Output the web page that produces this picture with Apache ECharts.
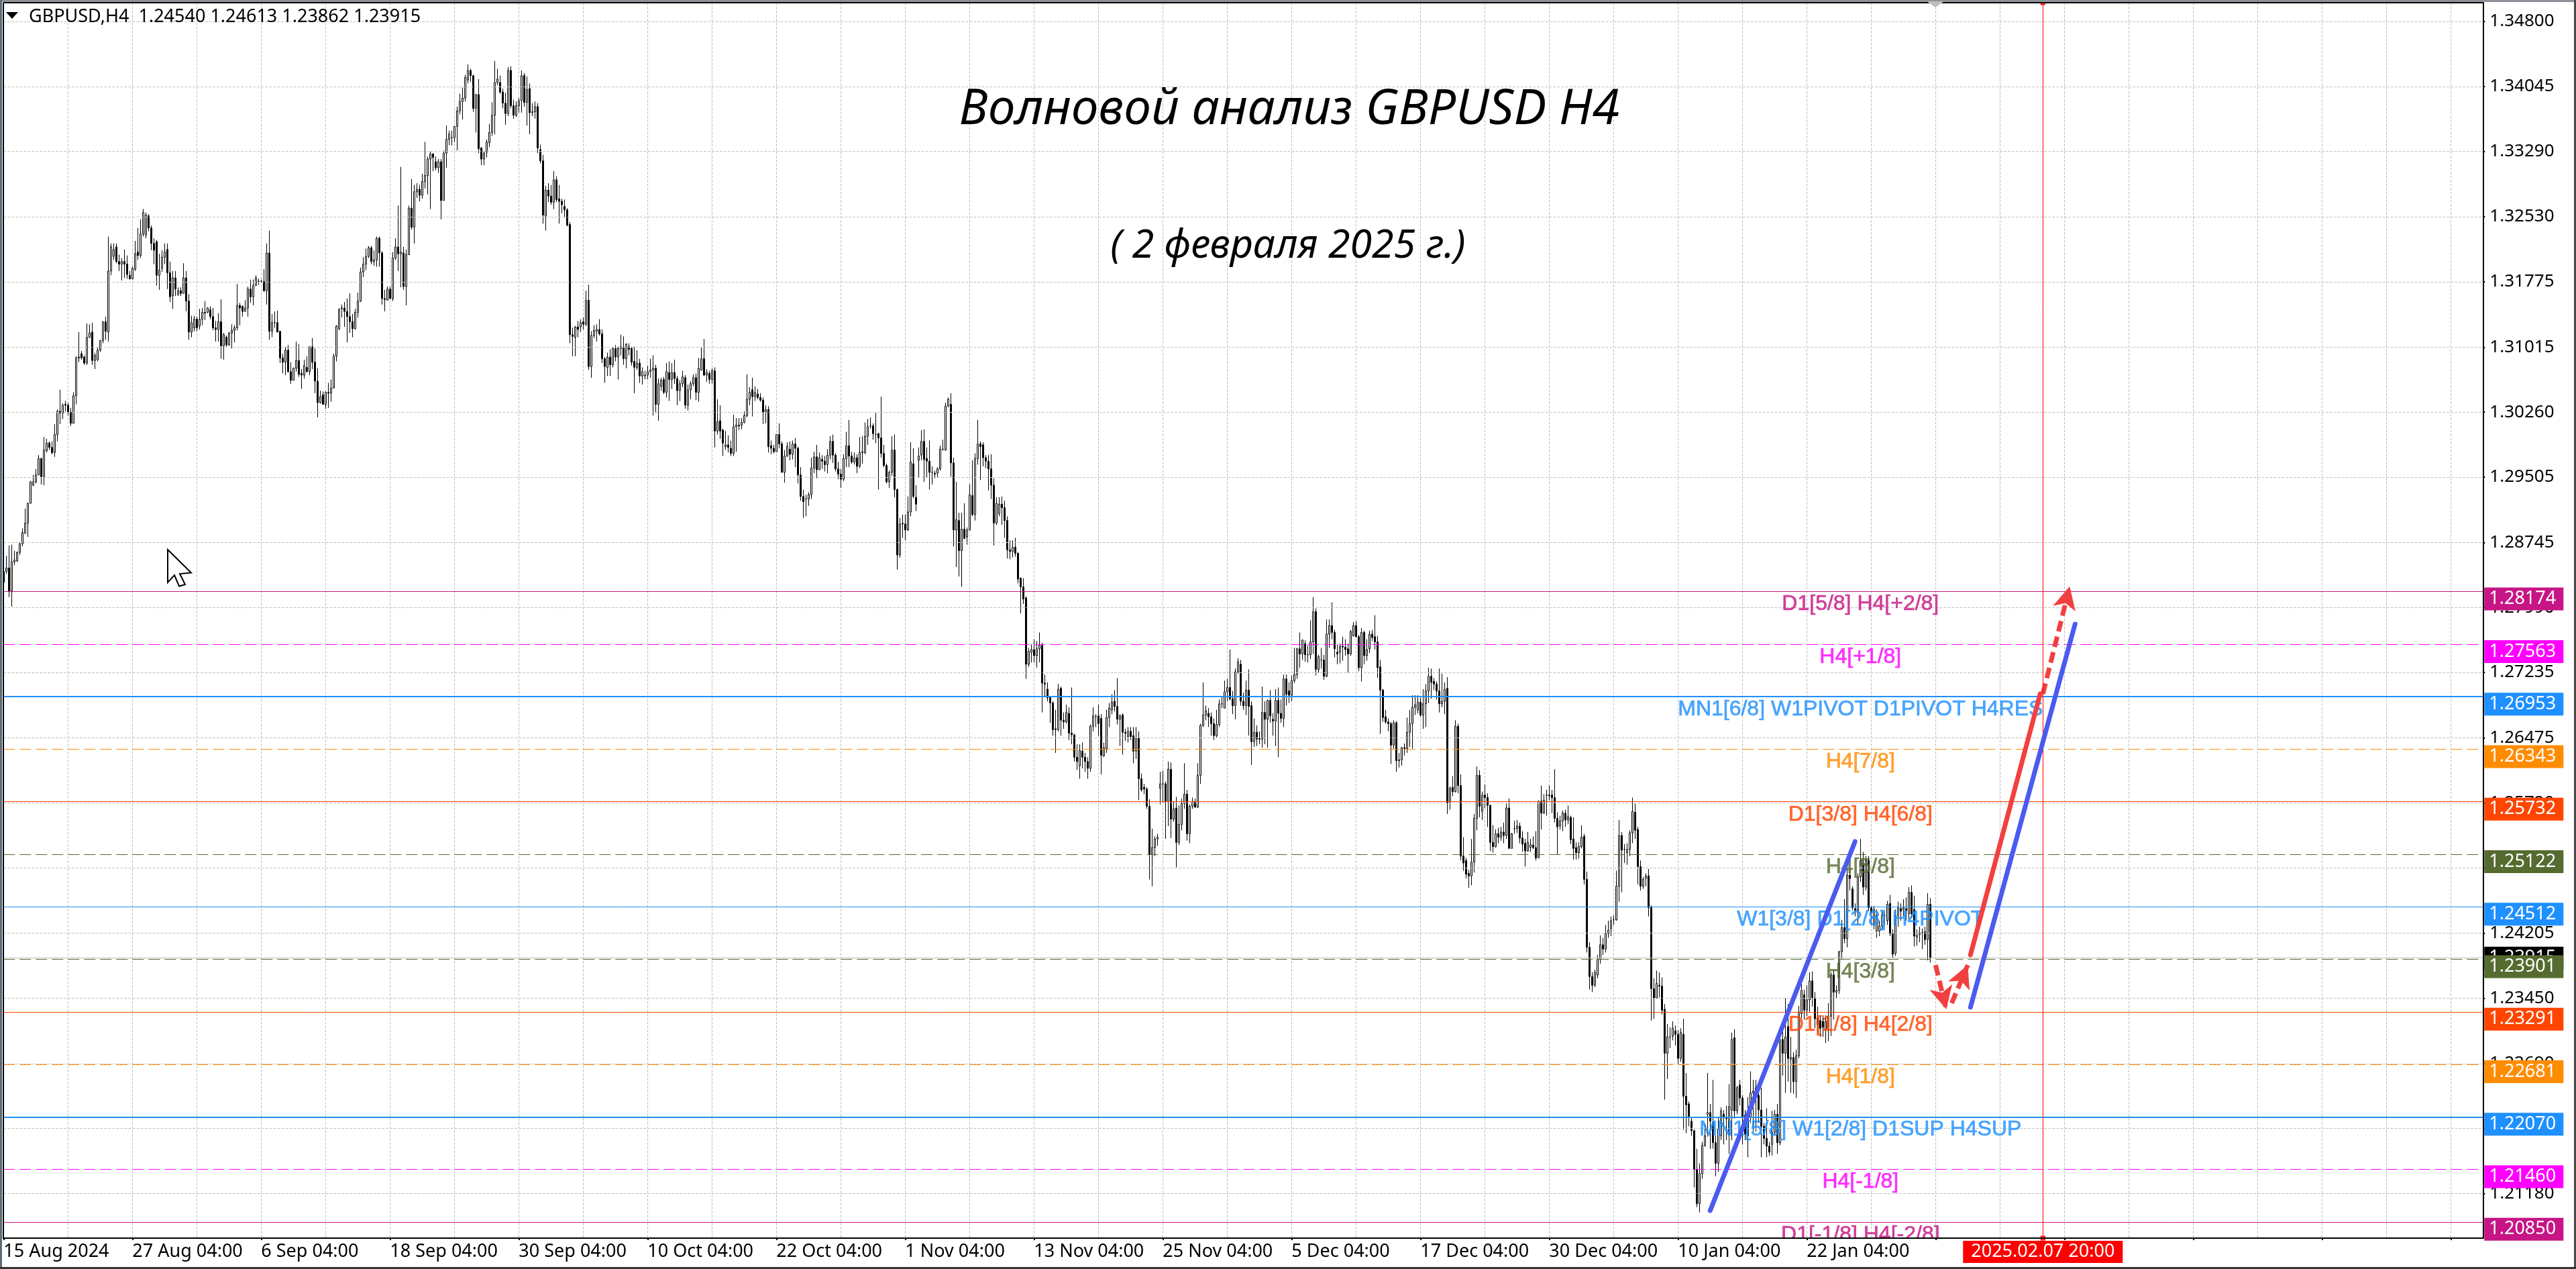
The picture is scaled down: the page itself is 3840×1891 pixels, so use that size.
<!DOCTYPE html>
<html><head><meta charset="utf-8">
<style>html,body{margin:0;padding:0;background:#fff;overflow:hidden}#c{width:3840px;height:1891px}</style>
<script src="https://cdn.jsdelivr.net/npm/echarts@6/dist/echarts.min.js"></script>
</head><body><div id="c"></div>
<script>
// Prices are stored as pips above 1.20000; each row is [open, high, low, close]
const barsAugSep = [
[828,842,820,841],[841,859,838,845],[845,871,811,818],[818,872,800,852],[852,865,848,854],[853,864,852,863],[863,875,860,873],[873,891,870,886],[885,914,885,897],[897,921,881,920],
[920,946,920,945],[941,953,940,945],[945,960,943,953],[953,976,953,972],[972,973,942,951],[951,997,941,982],[981,995,979,990],[990,992,982,985],[985,992,977,979],[979,1012,974,1000],
[1000,1029,992,1027],[1027,1052,1012,1025],[1025,1036,1018,1034],[1035,1039,1027,1034],[1034,1037,1022,1026],[1026,1031,1010,1013],[1013,1049,1013,1045],[1045,1091,1035,1089],[1090,1119,1084,1089],[1094,1097,1087,1089],
[1090,1092,1081,1083],[1083,1129,1081,1113],[1113,1128,1112,1118],[1119,1130,1081,1086],[1086,1095,1076,1092],[1087,1101,1085,1098],[1098,1110,1096,1109],[1109,1131,1106,1131],[1131,1137,1110,1120],[1119,1230,1108,1190],
[1190,1222,1185,1218],[1207,1222,1203,1215],[1218,1222,1199,1201],[1201,1209,1190,1198],[1198,1205,1179,1201],[1201,1215,1182,1198],[1198,1208,1181,1186],[1185,1190,1180,1181],[1181,1195,1180,1193],[1192,1225,1190,1210],
[1212,1240,1203,1208],[1208,1250,1205,1233],[1233,1262,1230,1258],[1232,1258,1228,1255],[1254,1256,1236,1240],[1240,1243,1214,1222],[1222,1228,1198,1214],[1224,1226,1173,1185],[1185,1210,1168,1191],[1193,1214,1189,1206],
[1206,1222,1198,1212],[1215,1222,1169,1188],[1188,1201,1154,1160],[1161,1190,1146,1182],[1182,1190,1161,1169],[1163,1171,1161,1167],[1167,1171,1161,1164],[1164,1199,1164,1182],[1182,1190,1143,1155],[1155,1163,1110,1119],
[1119,1138,1113,1130],[1124,1138,1120,1134],[1134,1137,1120,1124],[1126,1146,1122,1134],[1134,1147,1127,1142],[1142,1155,1133,1141],[1142,1148,1141,1147],[1145,1149,1134,1137],[1137,1147,1121,1124],[1124,1132,1108,1122],
[1122,1141,1108,1131],[1131,1157,1088,1103],[1103,1118,1087,1116],[1113,1115,1102,1104],[1104,1119,1103,1118],[1118,1128,1100,1121],[1121,1127,1107,1124],[1124,1175,1121,1150],[1150,1153,1127,1147],[1149,1150,1137,1143],
[1143,1156,1143,1147],[1147,1172,1137,1169],[1169,1180,1153,1160],[1160,1180,1150,1173],[1173,1185,1173,1182],[1178,1181,1174,1178],[1178,1180,1176,1178],[1178,1192,1166,1167],[1167,1222,1151,1211],[1211,1237,1110,1120]
];
const barsSepOct = [
[1120,1140,1113,1130],[1130,1143,1124,1130],[1130,1144,1119,1119],[1120,1120,1083,1089],[1089,1094,1071,1084],[1084,1102,1069,1098],[1098,1104,1072,1073],[1073,1084,1059,1063],[1063,1078,1063,1077],[1077,1108,1073,1086],
[1086,1105,1067,1070],[1071,1076,1053,1069],[1069,1087,1065,1080],[1078,1091,1072,1073],[1073,1102,1069,1102],[1102,1112,1076,1084],[1084,1100,1048,1062],[1062,1077,1020,1037],[1037,1051,1036,1044],[1046,1050,1035,1035],
[1035,1050,1030,1049],[1049,1060,1031,1048],[1048,1064,1038,1054],[1054,1094,1054,1091],[1091,1127,1085,1126],[1123,1147,1121,1145],[1146,1151,1136,1147],[1147,1154,1125,1143],[1143,1158,1107,1137],[1137,1164,1118,1131],
[1131,1140,1113,1123],[1123,1146,1122,1142],[1142,1165,1136,1155],[1155,1194,1154,1189],[1189,1206,1183,1198],[1198,1216,1191,1207],[1207,1219,1205,1217],[1217,1219,1198,1201],[1201,1214,1196,1203],[1203,1230,1195,1228],
[1228,1230,1195,1211],[1211,1213,1151,1158],[1158,1168,1143,1157],[1156,1172,1156,1169],[1169,1172,1157,1158],[1158,1212,1155,1205],[1205,1228,1203,1218],[1218,1266,1190,1210],[1210,1311,1171,1212],[1211,1218,1168,1172],
[1172,1215,1150,1209],[1209,1266,1209,1263],[1263,1297,1238,1241],[1241,1290,1222,1282],[1282,1292,1275,1285],[1285,1290,1271,1278],[1278,1303,1274,1294],[1294,1340,1286,1301],[1301,1323,1279,1320],[1320,1329,1262,1326],
[1326,1327,1306,1322],[1317,1323,1307,1310],[1310,1320,1304,1317],[1317,1320,1250,1272],[1272,1330,1272,1327],[1327,1359,1310,1343],[1343,1353,1336,1349],[1345,1353,1336,1345],[1345,1358,1340,1358],[1358,1381,1330,1376],
[1376,1396,1372,1387],[1387,1403,1366,1391],[1391,1418,1387,1415],[1412,1430,1408,1423],[1423,1425,1410,1417],[1417,1418,1375,1379],[1379,1396,1351,1395],[1395,1413,1327,1332],[1333,1334,1313,1320],[1320,1329,1313,1327],
[1328,1343,1322,1340],[1339,1361,1334,1351],[1351,1386,1347,1371],[1371,1434,1349,1409],[1409,1425,1406,1413],[1409,1417,1396,1398],[1398,1402,1379,1385],[1385,1397,1360,1373],[1373,1427,1370,1423],[1423,1428,1379,1382],
[1382,1389,1367,1371],[1371,1387,1369,1382],[1382,1391,1374,1388],[1388,1423,1374,1417],[1417,1420,1381,1386],[1386,1416,1359,1401],[1402,1408,1349,1374],[1374,1385,1370,1375],[1375,1387,1367,1381],[1381,1385,1327,1333],
[1331,1337,1315,1318],[1318,1325,1245,1255],[1254,1289,1237,1284],[1284,1292,1270,1277],[1277,1290,1267,1270],[1270,1306,1262,1296]
];
const barsOct = [
[1296,1300,1270,1273],[1274,1290,1245,1271],[1271,1274,1257,1267],[1265,1273,1252,1261],[1261,1263,1242,1243],[1244,1247,1106,1116],[1116,1124,1091,1114],[1113,1126,1091,1125],[1125,1132,1113,1122],[1125,1134,1119,1130],
[1131,1136,1122,1128],[1128,1167,1126,1156],[1156,1174,1075,1079],[1079,1120,1066,1115],[1115,1127,1112,1121],[1120,1128,1108,1122],[1122,1134,1115,1117],[1117,1122,1083,1088],[1088,1090,1060,1079],[1078,1095,1068,1090],
[1090,1099,1068,1081],[1081,1102,1078,1100],[1100,1104,1085,1090],[1090,1102,1064,1100],[1100,1116,1092,1102],[1101,1114,1081,1088],[1088,1106,1077,1105],[1102,1106,1092,1099],[1100,1102,1080,1084],[1085,1102,1048,1078],
[1078,1098,1075,1083],[1083,1088,1060,1068],[1068,1078,1058,1073],[1068,1074,1064,1069],[1069,1080,1064,1073],[1073,1088,1066,1075],[1075,1092,1022,1077],[1077,1081,1025,1035],[1035,1065,1016,1059],[1056,1066,1051,1063],
[1064,1067,1047,1049],[1049,1083,1043,1073],[1072,1085,1039,1064],[1064,1083,1053,1072],[1072,1087,1059,1065],[1065,1068,1034,1051],[1051,1063,1039,1059],[1059,1074,1055,1067],[1066,1069,1030,1034],[1034,1058,1028,1052],
[1052,1062,1041,1059],[1059,1070,1056,1066],[1066,1071,1040,1049],[1049,1089,1038,1077],[1075,1101,1074,1088],[1088,1111,1068,1069],[1069,1076,1061,1072],[1071,1074,1059,1064],[1064,1077,1059,1074],[1074,1078,985,1004],
[1004,1041,1000,1015],[1016,1034,995,1004],[1005,1007,975,990],[986,1004,982,988],[988,999,979,985],[984,993,975,978],[978,1023,975,1009],[1009,1019,980,1011],[1011,1019,1005,1010],[1011,1019,1006,1014],
[1014,1027,1013,1022],[1022,1070,1020,1041],[1041,1055,1034,1049],[1052,1066,1021,1044],[1044,1056,1039,1049],[1047,1053,1041,1043],[1043,1048,1038,1040],[1040,1043,1012,1026],[1026,1034,1013,1029],[1029,1033,979,986],
[987,993,977,984],[984,988,978,980],[980,1000,980,1000],[1000,1013,984,989],[989,992,956,956],[956,982,944,975],[975,991,974,986],[983,992,970,977],[977,993,971,989],[989,996,962,984],
[984,986,943,953],[953,962,923,928],[928,936,903,922],[925,930,905,925],[925,933,917,930],[930,973,925,961],[961,980,955,974],[974,988,949,959],[959,979,959,973],[971,976,960,969],
[969,975,957,965],[965,983,955,976],[976,998,971,992]
];
const barsNov = [
[992,1000,967,976],[976,978,957,960],[960,968,948,954],[954,960,938,948],[948,977,946,972],[972,1003,962,987],[987,1017,962,975],[975,980,966,968],[968,979,965,973],[973,977,955,963],
[963,997,961,979],[979,998,966,980],[979,1014,977,998],[998,1018,988,1009],[1010,1020,1007,1010],[1010,1013,994,1001],[1000,1025,990,1000],[1001,1002,936,996],[996,1044,973,978],[978,988,962,964],
[964,966,943,945],[945,958,938,956],[956,998,952,982],[982,1000,927,936],[936,937,843,860],[860,903,857,896],[896,907,880,897],[896,907,877,889],[889,928,888,910],[910,991,905,968],
[966,984,926,928],[927,941,911,919],[970,985,950,975],[976,1005,970,992],[992,1006,945,971],[972,985,950,969],[969,993,936,956],[956,963,942,956],[955,958,949,954],[955,962,950,960],
[960,987,958,983],[983,994,981,983],[982,1037,981,1033],[1033,1043,1032,1041],[1035,1048,951,967],[967,973,870,889],[889,945,846,901],[900,909,835,865],[865,909,823,890],[890,920,879,879],
[881,892,872,889],[889,942,889,930],[929,970,905,907],[907,978,900,972],[972,1017,965,989],[989,992,947,986],[988,991,963,973],[973,976,961,969],[969,976,935,960],[960,977,925,941],
[941,949,871,897],[897,927,895,920],[908,927,905,919],[919,928,895,915],[915,923,880,900],[900,905,856,866],[866,877,855,864],[864,877,857,869],[869,880,858,862],[862,863,827,832],
[833,834,792,823],[823,833,803,809],[810,812,716,733],[733,752,730,748],[747,756,735,750],[750,762,735,743],[743,760,729,751],[751,770,735,755],[755,758,677,711],[711,721,695,710],
[704,712,690,694],[694,696,665,688],[688,690,650,657],[658,680,630,657],[657,710,655,704],[705,707,650,668],[668,677,658,666],[666,686,664,677],[676,683,645,653],[653,706,640,651],
[651,652,620,625],[625,640,610,620],[615,640,600,633],[632,642,612,625],[625,630,608,620],[620,625,600,612],[612,663,608,661],[661,683,655,673],[672,675,660,672],[673,686,650,664]
];
const barsDec = [
[670,675,605,627],[627,642,625,636],[635,680,630,671],[671,688,660,682],[680,698,675,689],[690,703,678,684],[684,717,663,669],[669,675,638,673],[674,676,628,654],[654,658,644,653],
[649,660,642,655],[655,660,645,649],[650,660,618,632],[632,660,623,647],[647,655,575,600],[600,606,585,587],[590,594,582,588],[588,590,565,568],[568,576,483,512],[512,542,475,520],
[520,533,510,530],[530,536,522,532],[589,608,570,594],[594,609,572,594],[594,597,530,573],[573,620,545,611],[611,619,531,553],[553,574,550,565],[566,579,497,526],[526,569,523,547],
[547,577,540,571],[571,618,565,582],[582,587,528,536],[536,570,525,568],[568,578,565,573],[573,577,566,567],[567,618,566,604],[604,664,594,662],[662,712,660,674],[674,685,668,679],
[676,682,660,672],[672,677,650,664],[664,670,645,650],[650,680,648,663],[663,692,660,687],[687,695,682,687],[682,714,682,701],[701,716,690,706],[706,750,691,693],[693,702,675,685],
[685,728,669,724],[724,740,722,736],[733,738,685,690],[690,700,680,685],[685,714,674,703],[703,727,650,684],[685,690,616,643],[643,670,637,654],[654,662,638,646],[647,655,640,646],
[646,707,636,677],[677,690,640,669],[669,692,636,691],[691,703,665,673],[669,676,650,667],[667,704,638,691],[691,706,625,676],[676,692,665,670],[670,721,660,716],[716,721,685,698],
[702,712,688,697],[697,720,690,714],[714,752,711,721],[721,752,716,751],[751,770,729,745],[745,762,738,761],[757,761,736,744],[744,755,735,744],[744,784,739,759],[759,811,745,794],
[794,798,720,727],[727,744,723,742],[738,752,728,738],[738,744,715,719],[719,785,718,768],[768,785,752,778],[778,805,762,770],[770,773,741,751],[747,756,733,745],[747,757,734,754],
[754,765,737,753],[753,762,743,750],[751,757,723,745],[745,773,743,771],[766,782,765,778],[778,783,764,765],[765,767,725,729],[729,775,713,770],[770,772,733,743],[743,762,737,750],
[751,772,746,768],[768,773,760,764],[765,790,750,759],[759,766,717,729],[730,738,652,703]
];
const barsJan = [
[703,704,666,671],[672,680,664,666],[666,670,655,664],[664,666,617,639],[639,668,635,665],[665,667,608,621],[621,630,613,622],[622,637,615,636],[636,641,627,635],[635,671,630,654],
[654,680,637,664],[664,697,635,683],[683,697,674,686],[680,697,676,689],[689,694,672,674],[674,704,658,687],[687,710,660,702],[702,729,688,719],[719,728,693,712],[713,717,703,710],
[710,713,692,702],[702,728,677,687],[687,722,683,690],[690,712,675,704],[705,718,559,572],[572,591,564,589],[590,603,580,585],[585,668,584,661],[661,664,583,592],[592,605,505,510],
[510,532,493,502],[505,508,484,489],[490,494,473,487],[487,530,476,503],[503,559,491,554],[554,614,540,604],[604,610,555,568],[562,585,552,581],[581,593,566,578],[578,583,544,569],
[569,570,516,526],[526,546,514,521],[521,541,520,536],[536,543,525,532],[532,544,528,538],[538,549,525,534],[534,571,530,566],[566,577,519,519],[519,537,519,536],[542,551,536,542],
[542,552,537,545],[545,549,525,531],[531,539,515,524],[525,530,498,516],[516,538,515,526],[520,530,515,523],[523,533,518,520],[520,539,505,508],[508,574,508,574],[574,592,541,560],
[560,582,559,575],[581,587,557,581],[581,592,575,580],[581,587,560,578],[578,611,549,554],[554,561,512,544],[545,557,541,551],[551,563,539,560],[560,564,544,552],[552,569,547,556],
[555,557,524,529],[530,555,506,519],[520,526,506,514],[514,526,507,521],[521,546,519,532],[533,536,477,483],[483,492,398,404],[404,410,355,370],[370,375,352,360],[360,378,358,375],
[372,395,368,390],[390,418,385,407],[407,415,395,402],[402,430,398,420],[420,435,415,424],[426,440,417,435],[436,441,430,436],[436,493,435,475],[475,552,457,534],[534,538,468,517],
[518,524,502,518],[514,525,500,518],[518,540,510,537],[537,578,525,562],[561,571,530,540],[541,544,477,498],[498,505,470,475],[475,486,472,483],[484,490,475,487],[487,495,440,450]
];
const barsJanFeb = [
[451,453,319,356],[356,368,321,345],[345,377,345,362],[360,375,346,359],[359,369,326,331],[332,338,227,281],[281,315,251,300],[300,311,287,300],[301,318,296,310],[307,313,290,303],
[303,308,268,275],[275,310,271,305],[303,321,192,231],[231,258,188,221],[222,225,196,207],[202,206,185,191],[191,192,125,146],[146,170,102,106],[106,153,96,141],[141,178,135,174],
[174,199,172,185],[210,258,184,212],[212,222,170,202],[201,250,170,177],[177,185,138,153],[153,207,143,193],[185,218,180,214],[210,215,175,206],[206,220,180,205],[186,245,164,219],
[215,305,180,297],[299,309,205,214],[214,243,210,241],[244,250,220,229],[229,232,175,207],[209,215,180,187],[185,230,160,205],[207,260,200,235],[235,250,190,237],[241,250,190,231],
[232,237,200,215],[215,241,160,196],[196,200,175,182],[182,217,160,173],[173,178,162,166],[175,214,162,189],[189,215,185,210],[210,222,164,177],[177,297,174,297],[297,319,255,281],
[281,345,235,300],[312,338,248,275],[274,300,235,276],[276,282,234,248],[248,285,229,278],[278,336,275,329],[327,361,322,354],[349,355,320,331],[331,360,324,343],[343,375,329,365],
[365,376,335,345],[345,352,310,321],[322,335,305,314],[319,325,300,310],[318,325,300,311],[309,325,293,318],[311,339,295,324],[324,375,301,372],[372,378,320,352],[352,360,345,354],
[354,400,350,399],[399,436,390,427],[427,460,409,414],[414,496,404,488],[488,496,470,484],[472,475,447,450],[449,455,440,447],[447,490,430,486],[486,530,480,505],[501,515,465,474],
[474,510,470,505],[505,510,446,450],[450,452,430,444],[430,452,425,448],[423,448,415,442],[423,435,417,429],[429,446,425,441],[441,445,430,441],[435,458,430,454],[455,465,417,420],
[420,425,392,396],[397,448,394,441],[441,457,428,450],[449,455,435,446],[448,460,440,450],[449,462,435,447],[443,474,436,468],[468,476,438,443],[448,464,405,417],[416,425,406,418],
[419,428,410,421],[421,426,402,421],[422,428,407,413],[413,467,389,454],[454,461.3,386.2,391.5]
];
const tickLabels = ["15 Aug 2024","27 Aug 04:00","6 Sep 04:00","18 Sep 04:00","30 Sep 04:00","10 Oct 04:00","22 Oct 04:00","1 Nov 04:00","13 Nov 04:00","25 Nov 04:00","5 Dec 04:00","17 Dec 04:00","30 Dec 04:00","10 Jan 04:00","22 Jan 04:00"];
const gridPrices = [1.348,1.34045,1.3329,1.3253,1.31775,1.31015,1.3026,1.29505,1.28745,1.2799,1.27235,1.26475,1.2572,1.24965,1.24205,1.2345,1.2269,1.21935,1.2118];
const levelPrices = [1.28174,1.27563,1.26953,1.26343,1.25732,1.25122,1.24512,1.23901,1.23291,1.22681,1.2207,1.2146,1.2085];
const levelNames = ["D1[5/8] H4[+2/8]","H4[+1/8]","MN1[6/8] W1PIVOT D1PIVOT H4RES","H4[7/8]","D1[3/8] H4[6/8]","H4[5/8]","W1[3/8] D1[2/8] H4PIVOT","H4[3/8]","D1[1/8] H4[2/8]","H4[1/8]","MN1[5/8] W1[2/8] D1SUP H4SUP","H4[-1/8]","D1[-1/8] H4[-2/8]"];
const currentPrice = 1.23915;
const blueChannelLeft = [[636,1.20981],[690,1.2527]];
const blueChannelRight = [[733,1.23344],[772,1.27797]];
const redForecast = [[733,1.23952],[759,1.26986]];
const redDashedDown = [[720,1.23835],[724,1.23321]];
const redDashedUp = [[726,1.23391],[732,1.23835]];
const redDashedTop = [[760,1.26986],[770,1.28234]];
const cursorTimeIndex = 760;
const cursorTimeLabel = "2025.02.07 20:00";
const headerText = "GBPUSD,H4  1.24540 1.24613 1.23862 1.23915";

const levelStyle = [["#C71585",1,"solid"],["#FF00FF",1,[17,7]],["#1E90FF",2,"solid"],["#FF8C00",1,[17,7]],["#FF4500",1,"solid"],["#556B2F",1,[17,7]],["#1E90FF",1,"solid"],["#556B2F",1,[17,7]],["#FF4500",1,"solid"],["#FF8C00",1,[17,7]],["#1E90FF",2,"solid"],["#FF00FF",1,[17,7]],["#C71585",1,"solid"]];
const UI = '"Noto Sans",Tahoma,sans-serif';
const bars = [...barsAugSep,...barsSepOct,...barsOct,...barsNov,...barsDec,...barsJan,...barsJanFeb];
const toPrice = p => 1.2 + p/10000;
const slots = 925;
const categories = Array.from({length:slots},(_,i)=> i%48===0 && tickLabels[i/48] ? tickLabels[i/48] : "");
const ohlc = bars.map(([o,h,l,c])=>[toPrice(o),toPrice(c),toPrice(Math.min(l,o,c)),toPrice(Math.max(h,o,c))]);
const tag = (price,color,off)=>({show:true,position:'end',distance:2,offset:[0,off],formatter:price.toFixed(5),color:'#fff',backgroundColor:color,fontFamily:UI,fontSize:27,padding:[0,7,0,7],width:104,height:34,lineHeight:34,align:'left'});
const trend = (pts,color)=>({type:'line',data:pts,symbol:'none',silent:true,z:6,clip:false,lineStyle:{color,width:7,cap:'round'},animation:false});
const dashedArrow = pts=>[{coord:pts[0],symbol:'none'},{coord:pts[1],symbol:'arrow'}];

const option = {
  animation:false, backgroundColor:'#fff',
  grid:{left:5.3,top:4,width:3696,height:1841,containLabel:false},
  xAxis:[
    {type:'category',data:categories,boundaryGap:false,axisLine:{show:false},axisTick:{show:false},axisLabel:{show:false},
     splitLine:{show:true,interval:i=>i%24===0,lineStyle:{color:'#c0c0c0',type:[4,2],width:1}}},
    {type:'category',data:categories,boundaryGap:false,position:'bottom',z:8,
     axisLine:{show:true,onZero:false,lineStyle:{color:'#000',width:2}},
     axisTick:{show:true,length:3,interval:i=>i%48===0,lineStyle:{color:'#000',width:2}},
     axisLabel:{show:true,interval:i=>i%48===0,align:'left',margin:7,color:'#000',fontFamily:UI,fontSize:27,hideOverlap:false},splitLine:{show:false}}
  ],
  yAxis:{type:'value',position:'right',min:1.20661,max:1.35018,scale:true,z:1,
    axisLine:{show:true,lineStyle:{color:'#000',width:2}},
    axisTick:{show:true,length:3,customValues:gridPrices,lineStyle:{color:'#000',width:2}},
    axisLabel:{show:true,customValues:gridPrices,margin:10,color:'#000',fontFamily:UI,fontSize:26,formatter:v=>v.toFixed(5),showMinLabel:true,showMaxLabel:true},
    splitLine:{show:false}},
  series:[
    {type:'line',data:[],z:1,silent:true,markLine:{silent:true,symbol:'none',animation:false,precision:5,label:{show:false},
      lineStyle:{color:'#c0c0c0',type:[4,2],width:1},data:gridPrices.map(v=>({yAxis:v}))}},
    {type:'candlestick',xAxisIndex:0,data:ohlc,barWidth:3,z:3,silent:true,large:false,progressive:0,
      itemStyle:{color:'#fff',color0:'#000',borderColor:'#000',borderColor0:'#000',borderWidth:1}},
    {type:'line',data:[],z:4,silent:true,markLine:{silent:true,symbol:'none',animation:false,precision:5,
      data:[{yAxis:currentPrice,lineStyle:{color:'#bcbcbc',width:1,type:'solid'},label:tag(currentPrice,'#000',0)},
        ...levelPrices.map((v,i)=>({yAxis:v,lineStyle:{color:levelStyle[i][0],width:levelStyle[i][1],type:levelStyle[i][2]},label:tag(v,levelStyle[i][0],11)}))]}},
    {type:'scatter',data:levelPrices.map((v,i)=>({value:[692,v],label:{formatter:levelNames[i],color:levelStyle[i][0],textBorderColor:levelStyle[i][0],textBorderWidth:0.7}})),symbolSize:1,itemStyle:{color:'transparent'},z:5,silent:true,
      label:{show:true,position:'inside',offset:[0,19],fontFamily:'"Liberation Sans",Arial,sans-serif',fontSize:32}},
    trend(blueChannelLeft,'#4A5BEF'),trend(blueChannelRight,'#4A5BEF'),trend(redForecast,'#F24040'),
    {type:'line',data:[],z:7,silent:true,markLine:{silent:true,animation:false,symbolSize:[26,34],
      lineStyle:{color:'#F24040',width:7,type:[16,8]},label:{show:false},
      data:[dashedArrow(redDashedDown),dashedArrow(redDashedUp),dashedArrow(redDashedTop)]}},
    {type:'line',data:[],z:7,silent:true,markLine:{silent:true,animation:false,symbol:'emptyRect',symbolSize:5,
      lineStyle:{color:'#FF0000',width:1,type:'solid'},
      data:[{xAxis:cursorTimeIndex,label:{show:true,position:'start',distance:4,formatter:cursorTimeLabel,color:'#fff',backgroundColor:'#FF0000',fontFamily:UI,fontSize:27,padding:[0,12,0,12],lineHeight:33}}]}}
  ],
  graphic:[
    {type:'rect',z:6,silent:true,shape:{x:2640,y:1846,width:250,height:40},style:{fill:'#fff'}},
    {type:'rect',z:20,silent:true,shape:{x:0,y:0,width:3840,height:3},style:{fill:'#8d9298'}},
    {type:'rect',z:20,silent:true,shape:{x:0,y:0,width:3,height:1891},style:{fill:'#5d6b75'}},
    {type:'rect',z:20,silent:true,shape:{x:3837,y:0,width:3,height:1891},style:{fill:'#4a4a4a'}},
    {type:'rect',z:20,silent:true,shape:{x:0,y:1888,width:3840,height:3},style:{fill:'#333'}},
    {type:'line',z:20,silent:true,shape:{x1:5,y1:4,x2:3701,y2:4},style:{stroke:'#000',lineWidth:2}},
    {type:'line',z:20,silent:true,shape:{x1:5,y1:4,x2:5,y2:1846},style:{stroke:'#000',lineWidth:2}},
    {type:'polygon',z:20,silent:true,shape:{points:[[9,18],[27,18],[18,28]]},style:{fill:'#000'}},
    {type:'polygon',z:20,silent:true,shape:{points:[[2872,2],[2898,2],[2885,11]]},style:{fill:'#bdbdbd'}},
    {type:'text',z:20,silent:true,x:43,y:25,style:{text:headerText,fill:'#000',font:'27px '+UI,verticalAlign:'middle'}},
    {type:'polygon',z:20,silent:true,shape:{points:[[250,819],[285,853.5],[268,855],[276,871],[267,873.5],[260,857],[250,868]]},style:{fill:'#fff',stroke:'#000',lineWidth:2}},
    {type:'text',z:20,silent:true,x:1922,y:164,style:{text:'Волновой анализ GBPUSD H4',fill:'#000',font:'italic 73px "Noto Sans",sans-serif',align:'center',verticalAlign:'middle'}},
    {type:'text',z:20,silent:true,x:1920,y:367,style:{text:'( 2 февраля 2025 г.)',fill:'#000',font:'italic 59px "Noto Sans",sans-serif',align:'center',verticalAlign:'middle'}}
  ]
};
echarts.init(document.getElementById('c'),null,{renderer:'canvas',width:3840,height:1891}).setOption(option);
</script></body></html>
